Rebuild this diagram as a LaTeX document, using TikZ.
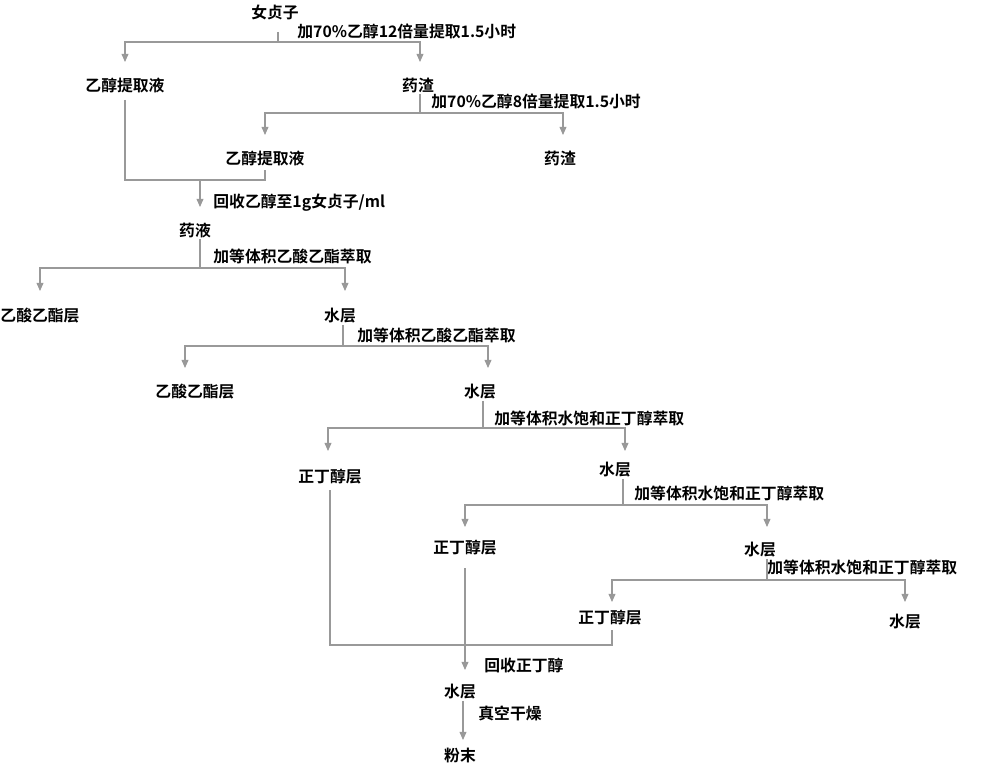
\documentclass[tikz,border=0pt]{standalone}
\usepackage{fontspec}
\setmainfont{Noto Sans CJK SC}[BoldFont={Noto Sans CJK SC Bold}]
\usetikzlibrary{arrows.meta}
\begin{document}
\begin{tikzpicture}[x=0.03cm, y=-0.03cm,
    every node/.style={font=\fontsize{13.5}{15}\selectfont\bfseries, inner sep=1pt},
    lbl/.style={anchor=west},
    ln/.style={draw=gray!80, line width=0.9pt},
    arr/.style={ln, -{Triangle[length=7pt, width=6pt, fill=gray!80]}}]
    \useasboundingbox (0,0) rectangle (1000,766);

    % start
    \node(a) at (275,12) {女贞子};
    \node[lbl] at (296,31) {加70\%乙醇12倍量提取1.5小时};
    \coordinate(a1) at (278,42);
    \node(b) at (125,85) {乙醇提取液};
    \node(c) at (418,85) {药渣};
    \draw[ln] (a1) ++(0,-10) -- (a1);
    \draw[arr] (a1) -| (125,62);
    \draw[arr] (a1) -| (420,62);

    \coordinate(c1) at (420,113);
    \node[lbl] at (430,101) {加70\%乙醇8倍量提取1.5小时};
    \node(d) at (265,158) {乙醇提取液};
    \node(e) at (560,158) {药渣};
    \draw[ln] (c.south -| c1) -- (c1);
    \draw[arr] (c1) -| (265,135);
    \draw[arr] (c1) -| (563,135);

    % combine
    \coordinate(m) at (200,180);
    \draw[ln] (125,100) |- (m) -| (265,170);
    \node(f) at (195,230) {药液};
    \draw[arr] (m) -- (200,207);
    \node[lbl] at (212,203) {回收乙醇至1g女贞子/ml};

    \coordinate(f1) at (200,268);
    \node[lbl] at (212,256) {加等体积乙酸乙酯萃取};
    \node(g) at (40,316) {乙酸乙酯层};
    \node(h) at (340,316) {水层};
    \draw[ln] (f.south -| f1) -- (f1);
    \draw[arr] (f1) -| (40,291);
    \draw[arr] (f1) -| (345,291);

    \coordinate(h1) at (343,346);
    \node[lbl] at (356,335) {加等体积乙酸乙酯萃取};
    \node(i) at (195,392) {乙酸乙酯层};
    \node(j) at (480,392) {水层};
    \draw[ln] (h.south -| h1) -- (h1);
    \draw[arr] (h1) -| (185,368);
    \draw[arr] (h1) -| (488,368);

    \coordinate(j1) at (483,428);
    \node[lbl] at (493,418) {加等体积水饱和正丁醇萃取};
    \node(k) at (330,477) {正丁醇层};
    \node(l) at (615,470) {水层};
    \draw[ln] (j.south -| j1) -- (j1);
    \draw[arr] (j1) -| (328,451);
    \draw[arr] (j1) -| (625,451);

    \coordinate(l1) at (623,505);
    \node[lbl] at (633,493) {加等体积水饱和正丁醇萃取};
    \node(n) at (465,548) {正丁醇层};
    \node(o) at (760,550) {水层};
    \draw[ln] (l.south -| l1) -- (l1);
    \draw[arr] (l1) -| (465,527);
    \draw[arr] (l1) -| (767,527);

    \coordinate(o1) at (767,580);
    \node[lbl] at (766,567) {加等体积水饱和正丁醇萃取};
    \node(p) at (610,618) {正丁醇层};
    \node(q) at (905,622) {水层};
    \draw[ln] (o.south -| o1) -- (o1);
    \draw[arr] (o1) -| (612,602);
    \draw[arr] (o1) -| (905,602);

    % collect
    \draw[ln] (330,490) |- (612,645) -- (612,630);
    \node(r) at (460,692) {水层};
    \draw[arr] (465,568) -- (465,670);
    \node[lbl] at (483,665) {回收正丁醇};
    \node(s) at (460,755) {粉末};
    \draw[arr] (r.south -| 463,0) -- (463,740);
    \node[lbl] at (477,713) {真空干燥};
\end{tikzpicture}
\end{document}
